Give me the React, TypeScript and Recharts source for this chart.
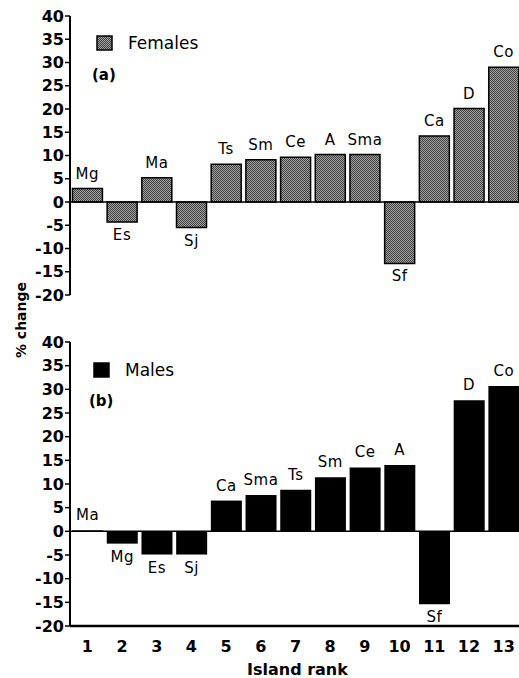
import React from 'react';
import { BarChart, Bar, XAxis, YAxis, ReferenceLine, LabelList, Legend } from 'recharts';

const ranks = ['1', '2', '3', '4', '5', '6', '7', '8', '9', '10', '11', '12', '13'];
const femaleLabels = ['Mg', 'Es', 'Ma', 'Sj', 'Ts', 'Sm', 'Ce', 'A', 'Sma', 'Sf', 'Ca', 'D', 'Co'];
const femaleValues = [2.9, -4.3, 5.2, -5.5, 8.1, 9.1, 9.6, 10.2, 10.2, -13.2, 14.2, 20.1, 29.0];
const maleLabels = ['Ma', 'Mg', 'Es', 'Sj', 'Ca', 'Sma', 'Ts', 'Sm', 'Ce', 'A', 'Sf', 'D', 'Co'];
const maleValues = [0, -2.6, -4.9, -4.9, 6.5, 7.7, 8.8, 11.4, 13.5, 14.0, -15.4, 27.7, 30.7];
const yTicks = [-20, -15, -10, -5, 0, 5, 10, 15, 20, 25, 30, 35, 40];

const femaleData = ranks.map((r, i) => ({ rank: r, value: femaleValues[i], label: femaleLabels[i] }));
const maleData = ranks.map((r, i) => ({ rank: r, value: maleValues[i], label: maleLabels[i] }));

const FONT = "'DejaVu Sans', sans-serif";
const tickStyle = { fontFamily: FONT, fontSize: 16, fontWeight: 700, fill: '#000' };

const makeLabel = (labels: string[], values: number[]) => (props: any) => {
  const vb = props.viewBox || {};
  const x = props.x ?? vb.x;
  const y = props.y ?? vb.y;
  const width = props.width ?? vb.width;
  const height = props.height ?? vb.height ?? 0;
  const idx = labels.indexOf(String(props.value));
  const v = idx >= 0 ? values[idx] : 0;
  const top = Math.min(y, y + height);
  const bottom = Math.max(y, y + height);
  const cx = x + width / 2;
  const ty = v < 0 ? bottom + 18 : top - 10;
  return (
    <text x={cx} y={ty} textAnchor="middle" fontFamily={FONT} fontSize={15} letterSpacing={0.6} fill="#000">
      {props.value}
    </text>
  );
};

const HatchDefs = ({ id }: { id: string }) => (
  <defs>
    <pattern id={id} patternUnits="userSpaceOnUse" width="2" height="2">
      <rect width="2" height="2" fill="#a2a2a2" />
      <rect x="0" y="0" width="1" height="1" fill="#404040" />
      <rect x="1" y="1" width="1" height="1" fill="#404040" />
    </pattern>
  </defs>
);

const legendContent = (name: string, hatched: boolean) => () => (
  <div style={{ display: 'flex', alignItems: 'center', fontFamily: FONT, fontSize: 17, color: '#000' }}>
    <svg width="17" height="16" style={{ display: 'block' }}>
      {hatched ? <HatchDefs id={'legendHatch'} /> : null}
      <rect x="1" y="1" width="15" height="14" fill={hatched ? 'url(#legendHatch)' : '#000'} stroke="#000" strokeWidth={1.5} />
    </svg>
    <span style={{ marginLeft: 15 }}>{name}</span>
  </div>
);

const abs = (extra: React.CSSProperties): React.CSSProperties => ({ position: 'absolute', fontFamily: FONT, color: '#000', whiteSpace: 'nowrap', lineHeight: 1, ...extra });

export default function App() {
  return (
    <div style={{ position: 'absolute', left: 0, top: 0, width: 519, height: 678, overflow: 'hidden', background: '#fff' }}>
      <div style={{ position: 'absolute', left: 0, top: 0 }}>
        <BarChart width={545} height={310} data={femaleData} margin={{ top: 16, right: 24, bottom: 15, left: 0 }} barCategoryGap="7%">
          <HatchDefs id="femaleHatch" />
          <XAxis dataKey="rank" height={0} tick={false} tickLine={false} axisLine={{ stroke: '#000', strokeWidth: 2.5 }} />
          <XAxis xAxisId="top" dataKey="rank" orientation="top" height={0} tick={false} tickLine={false} axisLine={{ stroke: '#000', strokeWidth: 2.5 }} />
          <YAxis width={70} domain={[-20, 40]} ticks={yTicks} interval={0} tick={tickStyle} tickSize={5} tickMargin={1} tickLine={{ stroke: '#000', strokeWidth: 1.5 }} axisLine={{ stroke: '#000', strokeWidth: 2 }} />
          <ReferenceLine y={0} stroke="#000" strokeWidth={1.5} />
          <Legend layout="horizontal" verticalAlign="middle" align="center" wrapperStyle={{ left: 96, top: 33, width: 'auto' }} content={legendContent('Females', true)} />
          <Bar dataKey="value" name="Females" fill="url(#femaleHatch)" stroke="#000" strokeWidth={1.5} isAnimationActive={false}>
            <LabelList dataKey="label" content={makeLabel(femaleLabels, femaleValues)} />
          </Bar>
        </BarChart>
      </div>
      <div style={{ position: 'absolute', left: 0, top: 300 }}>
        <BarChart width={545} height={366} data={maleData} margin={{ top: 42, right: 24, bottom: 0, left: 0 }} barCategoryGap="6%">
          <XAxis dataKey="rank" height={40} interval={0} tick={tickStyle} tickSize={0} tickMargin={15} tickLine={false} axisLine={{ stroke: '#000', strokeWidth: 2.5 }} />
          <XAxis xAxisId="top" dataKey="rank" orientation="top" height={0} tick={false} tickLine={false} axisLine={{ stroke: '#000', strokeWidth: 2.5 }} />
          <YAxis width={70} domain={[-20, 40]} ticks={yTicks} interval={0} tick={tickStyle} tickSize={5} tickMargin={1} tickLine={{ stroke: '#000', strokeWidth: 1.5 }} axisLine={{ stroke: '#000', strokeWidth: 2 }} />
          <ReferenceLine y={0} stroke="#000" strokeWidth={1.5} />
          <Legend layout="horizontal" verticalAlign="middle" align="center" wrapperStyle={{ left: 93, top: 60, width: 'auto' }} content={legendContent('Males', false)} />
          <Bar dataKey="value" name="Males" fill="#000" minPointSize={1} isAnimationActive={false}>
            <LabelList dataKey="label" content={makeLabel(maleLabels, maleValues)} />
          </Bar>
        </BarChart>
      </div>
      <div style={abs({ left: 92, top: 68, fontSize: 15, fontWeight: 700 })}>(a)</div>
      <div style={abs({ left: 89, top: 394, fontSize: 15, fontWeight: 700 })}>(b)</div>
      <div style={abs({ left: 247, top: 662, fontSize: 16, fontWeight: 700 })}>Island rank</div>
      <div style={abs({ left: 21, top: 320, fontSize: 14, fontWeight: 700, transform: 'translate(-50%, -50%) rotate(-90deg)' })}>% change</div>
    </div>
  );
}
